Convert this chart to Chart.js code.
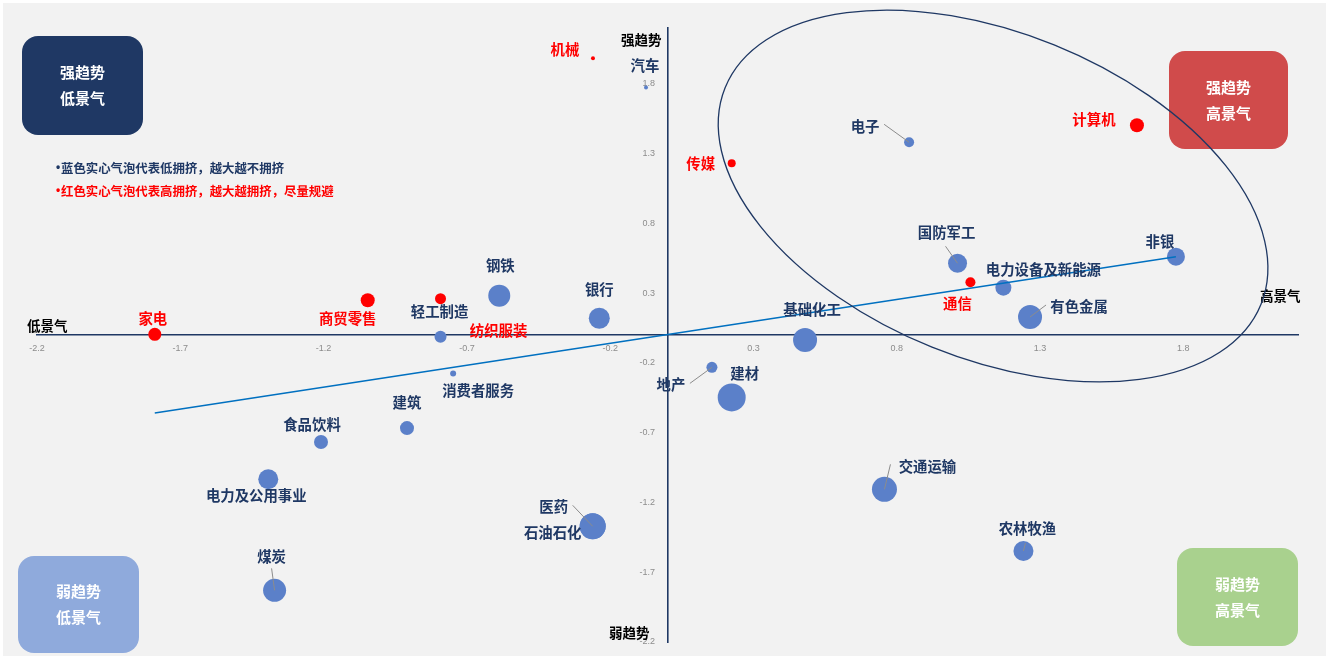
<!DOCTYPE html>
<html>
<head>
<meta charset="utf-8">
<script src="https://cdn.jsdelivr.net/npm/chart.js@4.4.1/dist/chart.umd.min.js"></script>
<style>
    html, body { margin: 0; padding: 0; background: #fff; }
    #wrap { width: 1331px; height: 658px; position: relative; }
</style>
</head>
<body>
<div id="wrap"><canvas id="chart"></canvas></div>
<script>
// sectors, x = 景气 (prosperity), y = 趋势 (momentum), r = bubble radius (crowding)
const sectors = ['机械', '汽车', '传媒', '电子', '计算机', '国防军工', '非银', '电力设备及新能源', '通信', '有色金属',
    '钢铁', '银行', '商贸零售', '家电', '轻工制造', '纺织服装', '基础化工', '消费者服务', '地产', '建材',
    '建筑', '食品饮料', '电力及公用事业', '医药', '石油石化', '交通运输', '农林牧渔', '煤炭'];
const prosperity = [-0.26, -0.075, 0.224, 0.843, 1.638, 1.012, 1.774, 1.172, 1.057, 1.265,
    -0.587, -0.238, -1.046, -1.789, -0.792, -0.792, 0.48, -0.748, 0.155, 0.224,
    -0.909, -1.209, -1.393, -0.261, -0.261, 0.757, 1.242, -1.371];
const momentum = [1.983, 1.773, 1.231, 1.381, 1.503, 0.514, 0.561, 0.339, 0.378, 0.129,
    0.282, 0.12, 0.249, 0.005, -0.012, 0.26, -0.036, -0.275, -0.232, -0.447,
    -0.667, -0.767, -1.034, -1.371, -1.371, -1.106, -1.548, -1.83];
const bubbleSize = [2, 2, 4, 5, 7, 9.5, 9, 8, 5, 12,
    11, 10.5, 7, 6.5, 6, 5.5, 12, 3, 5.5, 14,
    7, 7, 10, 13, 13, 12.5, 10, 11.5];
// 1 = high crowding (red), 0 = low crowding (blue)
const crowded = [1, 0, 1, 0, 1, 0, 0, 0, 1, 0,
    0, 0, 1, 1, 0, 1, 0, 0, 0, 0,
    0, 0, 0, 0, 0, 0, 0, 0];

// trend line
const trendX = [-1.789, 1.774];
const trendY = [-0.559, 0.561];

const xTicks = [-2.2, -1.7, -1.2, -0.7, -0.2, 0.3, 0.8, 1.3, 1.8];
const yTicks = [1.8, 1.3, 0.8, 0.3, -0.2, -0.7, -1.2, -1.7, -2.2];

const NAVY = '#1f3864';
const BLUE = '#5b80c9';
const RED = '#ff0000';
const FONT = '"Noto Sans CJK SC", "Noto Sans", sans-serif';

// label placement relative to bubble centre (px), optional leader start
const labelOffsets = {
    '机械': [-28, -9], '汽车': [-1, -22], '传媒': [-31, 0], '电子': [-44, -16, -25, -18],
    '计算机': [-43, -6], '国防军工': [-11, -31, -12, -17], '非银': [-16, -15],
    '电力设备及新能源': [40, -18], '通信': [-13, 21], '有色金属': [49, -10, 16, -12],
    '钢铁': [1, -30], '银行': [0, -29], '商贸零售': [-20, 18], '家电': [-2, -16],
    '轻工制造': [-1, -25], '纺织服装': [58, 32], '基础化工': [7, -30], '消费者服务': [25, 17],
    '地产': [-41, 17, -22, 16], '建材': [13, -24], '建筑': [0, -26], '食品饮料': [-9, -18],
    '电力及公用事业': [-12, 16], '医药': [-39, -20, -20, -21], '石油石化': [-40, 6],
    '交通运输': [43, -23, 6, -25], '农林牧渔': [4, -22, 2, -8], '煤炭': [-3, -34, -3, -22]
};

const points = sectors.map((s, i) => ({x: prosperity[i], y: momentum[i], r: bubbleSize[i]}));
const colors = crowded.map(c => c ? RED : BLUE);

function roundBox(ctx, x, y, w, h, r, fill) {
    ctx.beginPath();
    ctx.moveTo(x + r, y);
    ctx.arcTo(x + w, y, x + w, y + h, r);
    ctx.arcTo(x + w, y + h, x, y + h, r);
    ctx.arcTo(x, y + h, x, y, r);
    ctx.arcTo(x, y, x + w, y, r);
    ctx.closePath();
    ctx.fillStyle = fill;
    ctx.fill();
}

const decorPlugin = {
    id: 'decor',
    beforeDraw(chart) {
        const ctx = chart.ctx;
        ctx.save();
        ctx.fillStyle = '#f2f2f2';
        ctx.fillRect(3, 3, 1323, 653);

        // quadrant boxes
        const boxes = [
            [22, 36, 121, 99, '#1f3864', '强趋势', '低景气'],
            [1169, 51, 119, 98, '#d04b4b', '强趋势', '高景气'],
            [18, 556, 121, 97, '#8faadc', '弱趋势', '低景气'],
            [1177, 548, 121, 98, '#a9d18e', '弱趋势', '高景气']
        ];
        boxes.forEach(b => {
            roundBox(ctx, b[0], b[1], b[2], b[3], 16, b[4]);
            ctx.fillStyle = '#ffffff';
            ctx.font = 'bold 15px ' + FONT;
            ctx.textAlign = 'center';
            ctx.textBaseline = 'middle';
            ctx.fillText(b[5], b[0] + b[2] / 2, b[1] + b[3] / 2 - 13);
            ctx.fillText(b[6], b[0] + b[2] / 2, b[1] + b[3] / 2 + 13);
        });

        // notes, bullet drawn separately so it stays narrow
        const notes = [
            [NAVY, '蓝色实心气泡代表低拥挤，越大越不拥挤', 168],
            [RED, '红色实心气泡代表高拥挤，越大越拥挤，尽量规避', 191]
        ];
        ctx.textAlign = 'left';
        notes.forEach(n => {
            ctx.fillStyle = n[0];
            ctx.font = 'bold 12px "Liberation Sans", sans-serif';
            ctx.fillText('•', 56, n[2]);
            ctx.font = 'bold 12.4px ' + FONT;
            ctx.fillText(n[1], 61, n[2]);
        });
        ctx.restore();
    },
    afterDatasetsDraw(chart) {
        const ctx = chart.ctx;
        const xs = chart.scales.x, ys = chart.scales.y;
        ctx.save();

        // axis end labels
        ctx.font = 'bold 13.5px ' + FONT;
        ctx.fillStyle = '#000000';
        ctx.textBaseline = 'middle';
        ctx.textAlign = 'right';
        ctx.fillText('强趋势', xs.getPixelForValue(0) - 6, ys.top + 12);
        ctx.fillText('弱趋势', xs.getPixelForValue(0) - 18, ys.bottom - 9);
        ctx.textAlign = 'left';
        ctx.fillText('低景气', xs.left - 10, ys.getPixelForValue(0) - 9);
        ctx.fillText('高景气', xs.right - 38, ys.getPixelForValue(0) - 39);

        // focus ellipse
        const cx = xs.getPixelForValue(1.136), cy = ys.getPixelForValue(0.996);
        ctx.beginPath();
        ctx.ellipse(cx, cy, 289, 163, 22 * Math.PI / 180, 0, Math.PI * 2);
        ctx.strokeStyle = NAVY;
        ctx.lineWidth = 1.3;
        ctx.stroke();

        // sector labels + leaders
        const meta = chart.getDatasetMeta(1);
        ctx.font = 'bold 14.4px ' + FONT;
        ctx.textAlign = 'center';
        ctx.textBaseline = 'middle';
        sectors.forEach((s, i) => {
            const el = meta.data[i];
            const off = labelOffsets[s] || [0, -20];
            if (off.length > 2) {
                ctx.beginPath();
                ctx.moveTo(el.x + off[2], el.y + off[3]);
                ctx.lineTo(el.x, el.y);
                ctx.strokeStyle = '#8c8c8c';
                ctx.lineWidth = 1;
                ctx.stroke();
            }
            ctx.fillStyle = crowded[i] ? RED : NAVY;
            ctx.fillText(s, el.x + off[0], el.y + off[1]);
        });
        ctx.restore();
    }
};

const tickFont = {size: 9, family: '"Liberation Sans", sans-serif'};

new Chart(document.getElementById('chart'), {
    data: {
        datasets: [
            {
                type: 'line',
                label: 'trend',
                data: trendX.map((x, i) => ({x: x, y: trendY[i]})),
                borderColor: '#0070c0',
                borderWidth: 1.5,
                pointRadius: 0,
                order: 0
            },
            {
                type: 'bubble',
                label: 'sectors',
                data: points,
                backgroundColor: colors,
                borderWidth: 0,
                hoverBorderWidth: 0,
                order: 1
            }
        ]
    },
    options: {
        responsive: true,
        maintainAspectRatio: false,
        animation: false,
        layout: {padding: {left: 37, right: 33, top: 28, bottom: 16}},
        plugins: {legend: {display: false}, tooltip: {enabled: false}},
        scales: {
            x: {
                type: 'linear',
                position: {y: 0},
                min: -2.2,
                max: 2.2,
                afterBuildTicks: s => { s.ticks = xTicks.map(v => ({value: v})); },
                afterFit: s => { s.height = 0; },
                grid: {display: false, drawTicks: false},
                border: {display: true, color: NAVY, width: 1.6},
                ticks: {color: '#8c8c8c', font: tickFont, padding: 8, maxRotation: 0,
                    callback: v => Number(v).toFixed(1)}
            },
            y: {
                type: 'linear',
                position: {x: 0},
                min: -2.2,
                max: 2.2,
                afterBuildTicks: s => { s.ticks = yTicks.map(v => ({value: v})); },
                afterFit: s => { s.width = 0; },
                grid: {display: false, drawTicks: false},
                border: {display: true, color: NAVY, width: 1.6},
                // centred axes ignore padding, so trailing spaces push labels off the line
                ticks: {color: '#8c8c8c', font: tickFont,
                    callback: v => Number(v).toFixed(1) + '     '}
            }
        }
    },
    plugins: [decorPlugin]
});
</script>
</body>
</html>
